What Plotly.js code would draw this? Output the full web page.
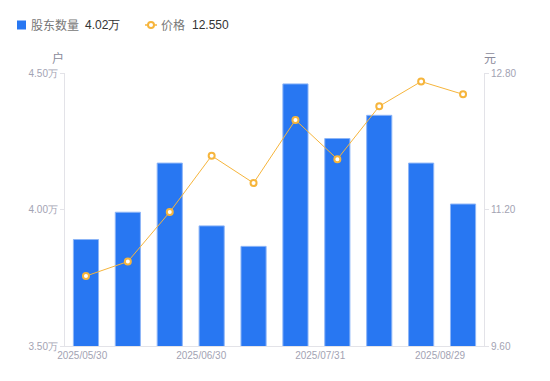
<!DOCTYPE html>
<html><head><meta charset="utf-8">
<script src="https://cdn.plot.ly/plotly-3.0.1.min.js"></script>
<style>html,body{margin:0;padding:0;background:#fff}#chart{width:550px;height:381px}</style>
</head><body><div id="chart"></div>
<script>
const dates = ["2025/05/30","2025/06/10","2025/06/20","2025/06/30","2025/07/10","2025/07/20","2025/07/31","2025/08/10","2025/08/20","2025/08/29"];
const holders = [3.89, 3.99, 4.17, 3.94, 3.865, 4.46, 4.26, 4.345, 4.17, 4.02]; // 万户
const price = [10.42, 10.59, 11.17, 11.83, 11.51, 12.25, 11.79, 12.41, 12.70, 12.55];
const seriesNames = ["股东数量", "价格"];
const latestText = ["4.02万", "12.550"];
const xTickText = ["2025/05/30","2025/06/30","2025/07/31","2025/08/29"];
const xTickPos = [-0.09, 2.75, 5.59, 8.45];
const leftTicks = [3.5, 4.0, 4.5];
const leftTickText = ["3.50万","4.00万","4.50万"];
const rightTicks = [9.6, 11.2, 12.8];
const rightTickText = ["9.60","11.20","12.80"];

const W = 550, H = 381, M = {l: 65, r: 66, t: 73, b: 35};
const pw = W - M.l - M.r, ph = H - M.t - M.b;
const px = x => (x - M.l) / pw;          // pixel -> paper x
const py = y => (H - M.b - y) / ph;      // pixel -> paper y

const blue = "#2877f2", orange = "#f6b53c";
const tickFont = {family: "Liberation Sans, Arial, sans-serif", size: 10, color: "#a3a3b3"};
const legFont = {family: "Noto Sans CJK SC, sans-serif", size: 12, color: "#777"};
const valFont = {family: "Liberation Sans, Arial, sans-serif", size: 12, color: "#333"};

const traces = [
  {type: "bar", x: dates, y: holders, name: seriesNames[0],
   marker: {color: blue, line: {color: "#8db5f7", width: 1}}, yaxis: "y", hoverinfo: "skip"},
  {type: "scatter", mode: "lines+markers", x: dates, y: price, name: seriesNames[1],
   line: {color: orange, width: 1}, marker: {symbol: "circle", size: 6, color: "#fff", line: {color: orange, width: 2}},
   yaxis: "y2", hoverinfo: "skip"}
];
const ann = (text, x, font) => ({text, xref: "paper", yref: "paper", x: px(x), y: py(25), xanchor: "left", yanchor: "middle", showarrow: false, font});
const layout = {
  width: W, height: H, margin: M,
  paper_bgcolor: "#fff", plot_bgcolor: "#fff",
  font: {family: "Noto Sans CJK SC, Liberation Sans, sans-serif", size: 12, color: "#666"},
  bargap: 0.4,
  showlegend: false,
  xaxis: {type: "category", range: [-0.5, 9.5], tickmode: "array", tickvals: xTickPos, ticktext: xTickText,
    showgrid: false, zeroline: false, showline: true, linecolor: "#e3e3e8", linewidth: 1, ticks: "", tickfont: tickFont},
  yaxis: {range: [3.5, 4.5], tickmode: "array", tickvals: leftTicks, ticktext: leftTickText, showgrid: false, zeroline: false,
    showline: true, linecolor: "#e3e3e8", ticks: "outside", ticklen: 4, tickcolor: "#e3e3e8", tickfont: tickFont},
  yaxis2: {overlaying: "y", side: "right", range: [9.6, 12.8], tickmode: "array", tickvals: rightTicks, ticktext: rightTickText,
    showgrid: false, zeroline: false, showline: true, linecolor: "#e3e3e8", ticks: "outside", ticklen: 4, tickcolor: "#e3e3e8",
    tickfont: tickFont},
  shapes: [
    {type: "rect", xref: "paper", yref: "paper", x0: px(17), x1: px(26), y0: py(20.5), y1: py(29.5), fillcolor: blue, line: {width: 0}},
    {type: "line", xref: "paper", yref: "paper", x0: px(145), x1: px(157), y0: py(25), y1: py(25), line: {color: orange, width: 1.5}},
    {type: "circle", xref: "paper", yref: "paper", x0: px(148), x1: px(154), y0: py(22), y1: py(28), fillcolor: "#fff", line: {color: orange, width: 2}}
  ],
  annotations: [
    ann(seriesNames[0], 29, legFont),
    ann(latestText[0], 83, valFont),
    ann(seriesNames[1], 159, legFont),
    ann(latestText[1], 190, valFont),
    {text: "户", xref: "paper", yref: "paper", x: px(58), y: py(57), xanchor: "center", yanchor: "middle", showarrow: false, font: {size: 12, color: "#8a8a9a"}},
    {text: "元", xref: "paper", yref: "paper", x: px(490), y: py(57), xanchor: "center", yanchor: "middle", showarrow: false, font: {size: 12, color: "#8a8a9a"}}
  ]
};
Plotly.newPlot("chart", traces, layout, {displayModeBar: false, staticPlot: true});
</script></body></html>
